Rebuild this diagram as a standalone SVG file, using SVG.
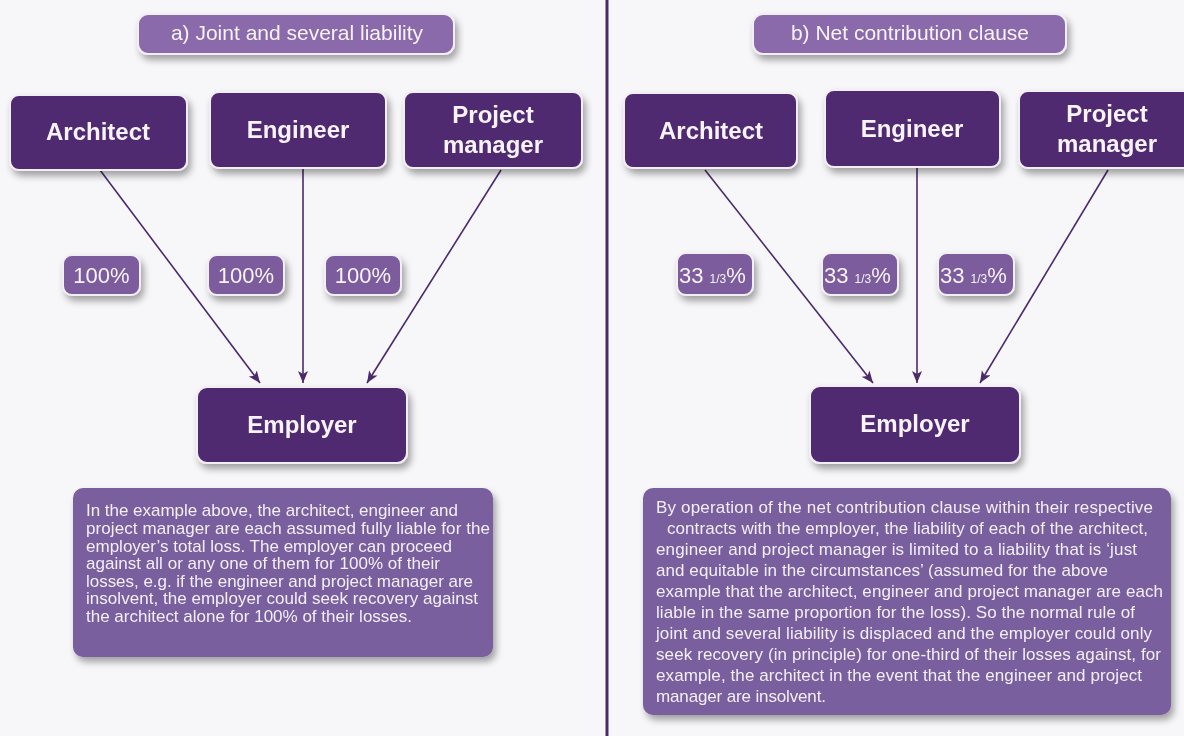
<svg xmlns="http://www.w3.org/2000/svg" width="1184" height="736" viewBox="0 0 1184 736">
<style>
.node{fill:#4f2a70;stroke:#f2eef5;stroke-width:2}
.title{fill:#8a6aab;stroke:#f2eef5;stroke-width:2}
.pct{fill:#7b5c9c;stroke:#f2eef5;stroke-width:2}
.note{fill:#7a5e9e}
.nt{font-family:"Liberation Sans",Arial,sans-serif;font-weight:bold;font-size:24px;fill:#f7f3f8;text-anchor:middle}
.tt{font-family:"Liberation Sans",Arial,sans-serif;font-size:21px;fill:#f7f3f8;text-anchor:middle}
.pt{font-family:"Liberation Sans",Arial,sans-serif;font-size:22px;fill:#f7f3f8}
.ps{font-size:12px}
.bt{font-family:"Liberation Sans",Arial,sans-serif;font-size:17px;fill:#f3eff6}
.conn{stroke:#4b2a6c;stroke-width:1.6;fill:none;marker-end:url(#arr)}
</style>
<defs>
<filter id="sh" x="-20%" y="-20%" width="150%" height="160%">
<feDropShadow dx="3" dy="5" stdDeviation="3.5" flood-color="#000" flood-opacity="0.35"/>
</filter>
<marker id="arr" markerUnits="userSpaceOnUse" markerWidth="14" markerHeight="12" refX="12" refY="5" orient="auto">
<path d="M0,0 L12,5 L0,10 L3,5 z" fill="#4b2a6c"/>
</marker>
</defs>
<rect width="1184" height="736" fill="#f7f6f8"/>
<line x1="607" y1="0" x2="607" y2="736" stroke="#4b2a6c" stroke-width="3"/>

<g id="connectors">
<line class="conn" x1="100" y1="170" x2="260" y2="383"/>
<line class="conn" x1="303" y1="168" x2="303" y2="383"/>
<line class="conn" x1="501" y1="170" x2="367" y2="383"/>
<line class="conn" x1="705" y1="170" x2="873" y2="383"/>
<line class="conn" x1="917" y1="167" x2="917" y2="383"/>
<line class="conn" x1="1108" y1="170" x2="980" y2="383"/>
</g>

<g id="title-a" filter="url(#sh)"><rect class="title" x="138" y="14" width="316" height="40" rx="10"/><text class="tt" x="297" y="40">a) Joint and several liability</text></g>
<g id="title-b" filter="url(#sh)"><rect class="title" x="753" y="14" width="313" height="40" rx="10"/><text class="tt" x="910" y="40">b) Net contribution clause</text></g>

<g id="a-architect" filter="url(#sh)"><rect class="node" x="10" y="95" width="177" height="75" rx="9"/><text class="nt" x="98" y="140">Architect</text></g>
<g id="a-engineer" filter="url(#sh)"><rect class="node" x="210" y="92" width="176" height="76" rx="9"/><text class="nt" x="298" y="138">Engineer</text></g>
<g id="a-pm" filter="url(#sh)"><rect class="node" x="404" y="92" width="178" height="76" rx="9"/><text class="nt" x="493" y="123">Project</text><text class="nt" x="493" y="153">manager</text></g>
<g id="a-employer" filter="url(#sh)"><rect class="node" x="197" y="387" width="210" height="76" rx="10"/><text class="nt" x="302" y="433">Employer</text></g>

<g id="b-architect" filter="url(#sh)"><rect class="node" x="624" y="93" width="173" height="75" rx="9"/><text class="nt" x="711" y="139">Architect</text></g>
<g id="b-engineer" filter="url(#sh)"><rect class="node" x="825" y="90" width="175" height="77" rx="9"/><text class="nt" x="912" y="137">Engineer</text></g>
<g id="b-pm" filter="url(#sh)"><rect class="node" x="1019" y="91" width="175" height="77" rx="9"/><text class="nt" x="1107" y="122">Project</text><text class="nt" x="1107" y="152">manager</text></g>
<g id="b-employer" filter="url(#sh)"><rect class="node" x="810" y="386" width="210" height="77" rx="10"/><text class="nt" x="915" y="432">Employer</text></g>

<g id="a-pct1" filter="url(#sh)"><rect class="pct" x="63" y="255" width="77" height="40" rx="9"/><text class="pt" x="101.5" y="283" text-anchor="middle">100%</text></g>
<g id="a-pct2" filter="url(#sh)"><rect class="pct" x="208" y="255" width="76" height="40" rx="9"/><text class="pt" x="246" y="283" text-anchor="middle">100%</text></g>
<g id="a-pct3" filter="url(#sh)"><rect class="pct" x="325" y="255" width="76" height="40" rx="9"/><text class="pt" x="363" y="283" text-anchor="middle">100%</text></g>

<g id="b-pct1" filter="url(#sh)"><rect class="pct" x="677" y="253" width="76" height="42" rx="9"/><text class="pt" x="679" y="283">33 <tspan class="ps">1/3</tspan>%</text></g>
<g id="b-pct2" filter="url(#sh)"><rect class="pct" x="822" y="253" width="76" height="42" rx="9"/><text class="pt" x="824" y="283">33 <tspan class="ps">1/3</tspan>%</text></g>
<g id="b-pct3" filter="url(#sh)"><rect class="pct" x="938" y="253" width="76" height="42" rx="9"/><text class="pt" x="940" y="283">33 <tspan class="ps">1/3</tspan>%</text></g>

<g id="a-note" filter="url(#sh)">
<rect class="note" x="73" y="488" width="420" height="169" rx="10"/>
<text class="bt" x="86" y="516" textLength="372">In the example above, the architect, engineer and</text>
<text class="bt" x="86" y="534" textLength="404">project manager are each assumed fully liable for the</text>
<text class="bt" x="86" y="552" textLength="366">employer’s total loss. The employer can proceed</text>
<text class="bt" x="86" y="569" textLength="354">against all or any one of them for 100% of their</text>
<text class="bt" x="86" y="587" textLength="387">losses, e.g. if the engineer and project manager are</text>
<text class="bt" x="86" y="604" textLength="392">insolvent, the employer could seek recovery against</text>
<text class="bt" x="86" y="622" textLength="326">the architect alone for 100% of their losses.</text>
</g>

<g id="b-note" filter="url(#sh)">
<rect class="note" x="643" y="488" width="528" height="227" rx="10"/>
<text class="bt" x="656" y="513" textLength="497">By operation of the net contribution clause within their respective</text>
<text class="bt" x="667" y="534" textLength="481">contracts with the employer, the liability of each of the architect,</text>
<text class="bt" x="656" y="555" textLength="481">engineer and project manager is limited to a liability that is ‘just</text>
<text class="bt" x="656" y="576" textLength="452">and equitable in the circumstances’ (assumed for the above</text>
<text class="bt" x="656" y="597" textLength="507">example that the architect, engineer and project manager are each</text>
<text class="bt" x="656" y="618" textLength="479">liable in the same proportion for the loss). So the normal rule of</text>
<text class="bt" x="656" y="639" textLength="496">joint and several liability is displaced and the employer could only</text>
<text class="bt" x="656" y="660" textLength="505">seek recovery (in principle) for one-third of their losses against, for</text>
<text class="bt" x="656" y="681" textLength="486">example, the architect in the event that the engineer and project</text>
<text class="bt" x="656" y="702" textLength="170">manager are insolvent.</text>
</g>
</svg>
